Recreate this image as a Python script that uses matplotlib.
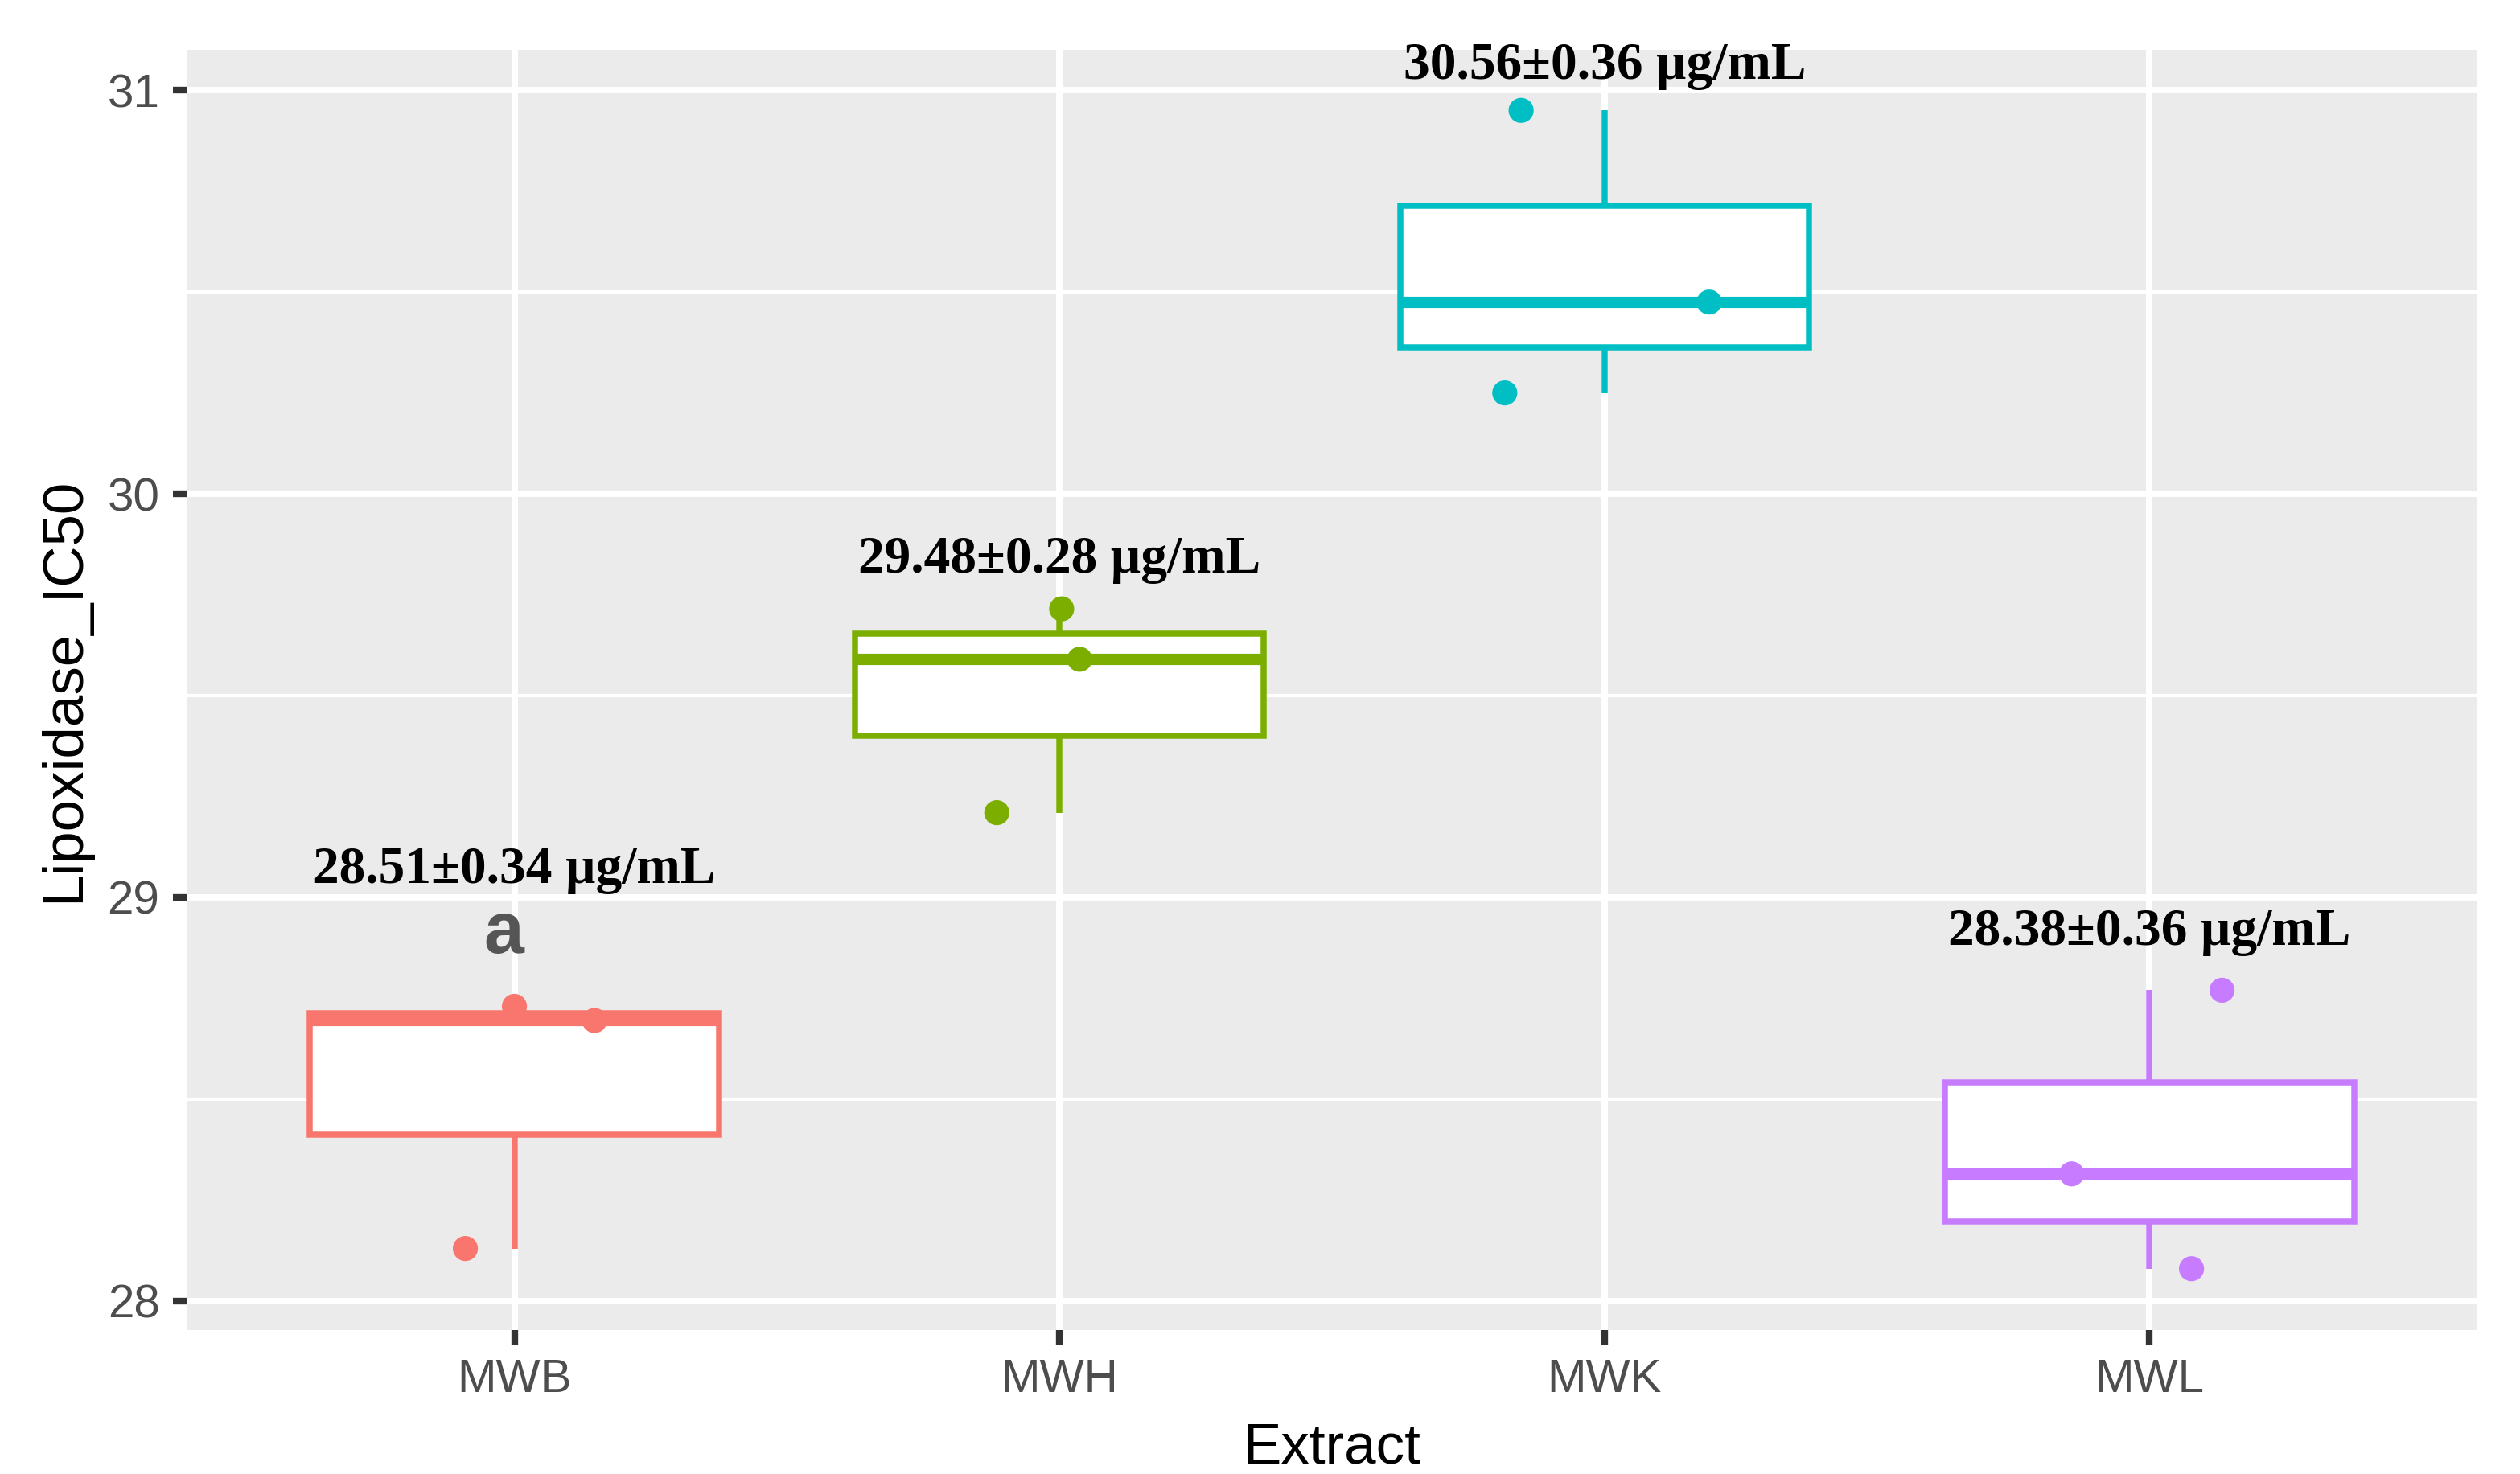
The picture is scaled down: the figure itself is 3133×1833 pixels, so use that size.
import matplotlib
matplotlib.use("Agg")
import matplotlib.pyplot as plt
from matplotlib.ticker import MultipleLocator

# ---------------- data ----------------
categories = ["MWB", "MWH", "MWK", "MWL"]
colors = ["#F8766D", "#7CAE00", "#00BFC4", "#C77CFF"]

mwb_values = [28.13, 28.695, 28.73]
mwh_values = [29.21, 29.59, 29.715]
mwk_values = [30.25, 30.475, 30.95]
mwl_values = [28.08, 28.315, 28.77]

# horizontal jitter of the points (category units)
mwb_jitter = [-0.09, 0.147, 0.0]
mwh_jitter = [-0.115, 0.037, 0.004]
mwk_jitter = [-0.183, 0.192, -0.153]
mwl_jitter = [0.077, -0.143, 0.133]

annot_labels = ["28.51±0.34 µg/mL", "29.48±0.28 µg/mL",
                "30.56±0.36 µg/mL", "28.38±0.36 µg/mL"]
annot_y = [29.036, 29.805, 31.028, 28.882]

letter_label = "a"
letter_x = 0.98
letter_y = 28.863

y_ticks = [28, 29, 30, 31]

# ---------------- figure ----------------
W, H, DPI = 3133, 1833, 300
fig = plt.figure(figsize=(W / DPI, H / DPI), dpi=DPI, facecolor="white")
ax = fig.add_axes([233 / W, 1 - 1654 / H, (3079 - 233) / W, (1654 - 62) / H])
ax.set_facecolor("#EBEBEB")
for s in ax.spines.values():
    s.set_visible(False)

values = [mwb_values, mwh_values, mwk_values, mwl_values]
jitters = [mwb_jitter, mwh_jitter, mwk_jitter, mwl_jitter]
positions = list(range(1, len(categories) + 1))

bp = ax.boxplot(values, positions=positions, widths=0.75, patch_artist=True,
                showcaps=False, showfliers=False, whis=1.5, zorder=2)
for i, c in enumerate(colors):
    box = bp["boxes"][i]
    box.set_facecolor("white")
    box.set_edgecolor(c)
    box.set_linewidth(1.8)
    box.set_joinstyle("miter")
    med = bp["medians"][i]
    med.set_color(c)
    med.set_linewidth(3.4)
    med.set_solid_capstyle("butt")
    for w in bp["whiskers"][2 * i:2 * i + 2]:
        w.set_color(c)
        w.set_linewidth(1.8)
        w.set_solid_capstyle("butt")

for i, (vals, jit, c) in enumerate(zip(values, jitters, colors)):
    xs = [positions[i] + j for j in jit]
    ax.scatter(xs, vals, s=56, color=c, edgecolors="none", zorder=4)

serif = ["Liberation Serif", "DejaVu Serif"]
for i, (lab, yv) in enumerate(zip(annot_labels, annot_y)):
    ax.text(positions[i], yv, lab, ha="center", va="baseline",
            fontsize=15.7, fontweight="bold", family=serif, color="black",
            clip_on=False, zorder=5)

ax.text(letter_x, letter_y, letter_label, ha="center", va="baseline",
        fontsize=21.5, fontweight="bold", family=["Liberation Sans", "DejaVu Sans"],
        color="#555555", zorder=5)

# axes
ax.set_xlim(0.4, 4.6)
ax.set_ylim(27.928, 31.10)
ax.set_xticks(positions)
ax.set_xticklabels(categories)
ax.set_yticks(y_ticks)
ax.set_yticklabels([str(t) for t in y_ticks])
ax.yaxis.set_minor_locator(MultipleLocator(0.5))

ax.grid(which="major", axis="both", color="white", linewidth=1.9, zorder=0)
ax.grid(which="minor", axis="y", color="white", linewidth=1.0, zorder=0)
ax.set_axisbelow(True)

sans = ["Liberation Sans", "DejaVu Sans"]
ax.tick_params(axis="both", which="major", length=4.3, width=2.0, color="#333333",
               labelcolor="#4D4D4D", labelsize=14, pad=4)
ax.tick_params(axis="y", which="minor", length=0)
for lab in ax.get_xticklabels() + ax.get_yticklabels():
    lab.set_family(sans)

ax.set_xlabel("Extract", fontsize=17, family=sans, color="black")
ax.xaxis.label.set_va("baseline")
ax.xaxis.set_label_coords(0.5, (1654 - 1820) / (1654 - 62))

ax.set_ylabel("Lipoxidase_IC50", fontsize=17, family=sans, color="black")
ax.yaxis.label.set_va("baseline")
ax.yaxis.set_label_coords((98 - 233) / (3079 - 233), 0.5)

fig.savefig("out.png", dpi=DPI, facecolor="white")
